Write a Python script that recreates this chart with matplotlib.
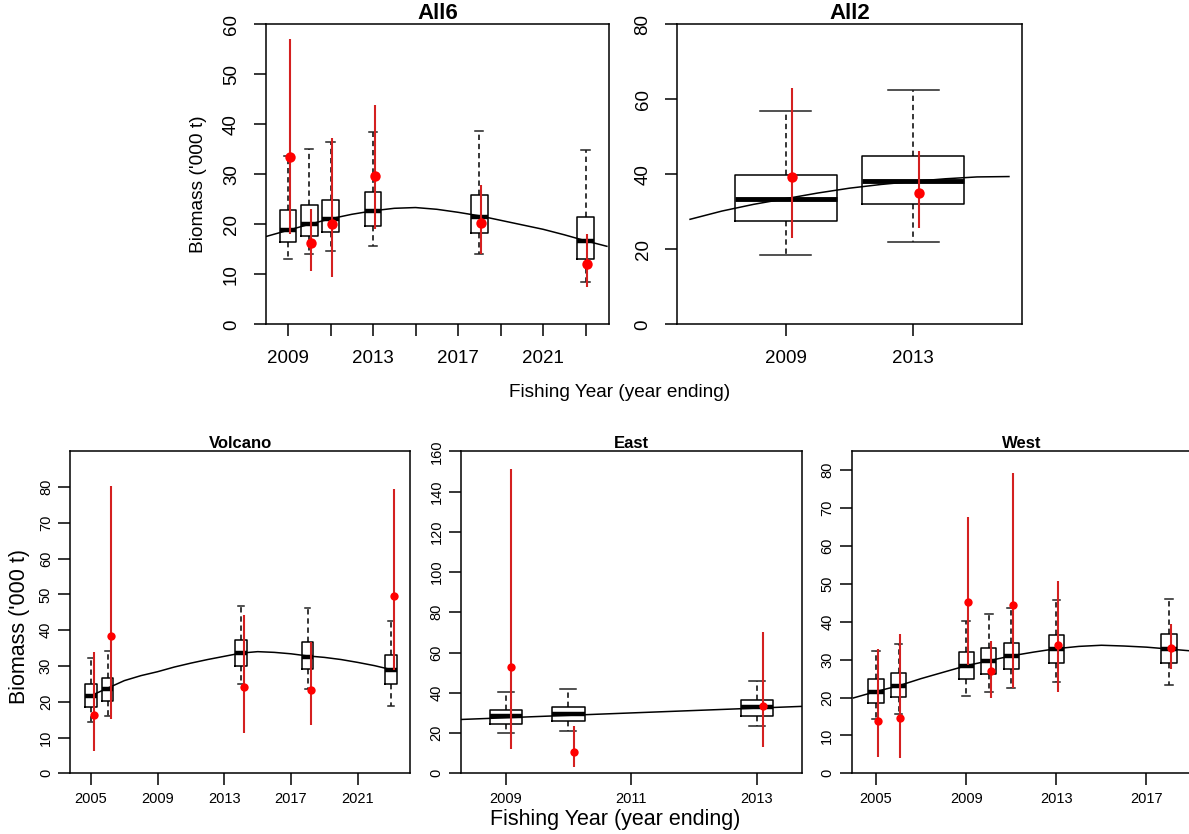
import matplotlib
matplotlib.use("Agg")
import matplotlib.pyplot as plt

plt.rcParams['font.family'] = ['Liberation Sans', 'DejaVu Sans']

# ---- All6 ----
all6_years = [2009, 2010, 2011, 2013, 2018, 2023]
all6_lo = [13.1, 14.0, 14.7, 15.7, 14.0, 8.5]
all6_q1 = [16.5, 17.6, 18.4, 19.7, 18.3, 13.1]
all6_med = [18.9, 20.1, 21.1, 22.6, 21.5, 16.7]
all6_q3 = [22.8, 23.9, 24.9, 26.5, 25.9, 21.5]
all6_hi = [33.7, 35.0, 36.4, 38.5, 38.7, 34.9]
all6_obs = [33.5, 16.2, 20.1, 29.7, 20.3, 12.0]
all6_obs_lo = [18.0, 10.7, 9.5, 19.0, 14.0, 7.5]
all6_obs_hi = [57.1, 23.1, 37.3, 43.8, 27.8, 18.1]
all6_fit_years = list(range(2008, 2025))
all6_fit = [17.6, 18.8, 20.0, 21.1, 22.0, 22.7, 23.2, 23.35, 23.0, 22.4, 21.7,
            20.8, 19.9, 19.0, 17.9, 16.7, 15.6]

# ---- All2 ----
all2_years = [2009, 2013]
all2_lo = [18.4, 22.0]
all2_q1 = [27.6, 32.1]
all2_med = [33.4, 38.2]
all2_q3 = [39.8, 45.0]
all2_hi = [56.8, 62.4]
all2_obs = [39.4, 34.9]
all2_obs_lo = [23.0, 25.6]
all2_obs_hi = [63.1, 46.2]
all2_fit_years = list(range(2006, 2017))
all2_fit = [28.0, 30.2, 32.0, 33.5, 35.0, 36.3, 37.3, 38.1, 38.8, 39.3, 39.4]

# ---- Volcano ----
volc_years = [2005, 2006, 2014, 2018, 2023]
volc_lo = [14.2, 15.9, 24.9, 23.5, 18.8]
volc_q1 = [18.6, 20.1, 29.9, 29.1, 24.9]
volc_med = [21.7, 23.6, 33.7, 32.6, 28.9]
volc_q3 = [24.9, 26.6, 37.3, 36.7, 33.0]
volc_hi = [32.1, 34.3, 46.9, 46.1, 42.6]
volc_obs = [16.2, 38.5, 24.0, 23.2, 49.5]
volc_obs_lo = [6.2, 15.3, 11.4, 13.5, 29.0]
volc_obs_hi = [33.9, 80.2, 44.3, 36.6, 79.4]
volc_fit_years = list(range(2005, 2024))
volc_fit = [21.7, 23.8, 25.9, 27.3, 28.4, 29.7, 30.8, 31.8, 32.7, 33.6, 34.0,
            33.8, 33.4, 32.8, 32.4, 31.8, 31.0, 30.1, 29.0]

# ---- East ----
east_years = [2009, 2010, 2013]
east_lo = [20.0, 21.2, 23.7]
east_q1 = [24.7, 26.0, 28.7]
east_med = [28.5, 29.6, 33.1]
east_q3 = [31.6, 33.1, 36.3]
east_hi = [40.2, 41.9, 45.7]
east_obs = [53.0, 10.4, 33.3]
east_obs_lo = [11.9, 3.3, 12.9]
east_obs_hi = [151.0, 23.7, 70.1]
east_fit_years = list(range(2008, 2015))
east_fit = [26.4, 27.6, 28.8, 30.0, 31.2, 32.4, 33.6]

# ---- West ----
west_years = [2005, 2006, 2009, 2010, 2011, 2013, 2018]
west_lo = [14.3, 15.7, 20.3, 21.5, 22.4, 24.1, 23.4]
west_q1 = [18.5, 20.1, 25.0, 26.2, 27.5, 29.2, 29.0]
west_med = [21.5, 23.1, 28.4, 29.7, 30.9, 32.8, 32.8]
west_q3 = [24.9, 26.4, 31.9, 33.2, 34.5, 36.4, 36.8]
west_hi = [32.2, 34.2, 40.3, 42.1, 43.6, 45.8, 46.0]
west_obs = [13.9, 14.5, 45.1, 27.0, 44.4, 33.9, 33.2]
west_obs_lo = [4.2, 4.1, 28.5, 20.0, 22.4, 21.4, 27.5]
west_obs_hi = [32.7, 36.7, 67.6, 35.0, 79.4, 50.8, 39.4]
west_fit_years = list(range(2004, 2020))
west_fit = [19.9, 21.6, 23.1, 25.0, 26.7, 28.4, 29.7, 31.0, 32.0, 32.9, 33.5,
            33.8, 33.6, 33.3, 32.8, 32.3]

W, H = 1189, 834
fig = plt.figure(figsize=(W / 100, H / 100), dpi=100)


def add_ax(x0, x1, y0, y1):
    return fig.add_axes([x0 / W, 1 - y1 / H, (x1 - x0) / W, (y1 - y0) / H])


def panel(ax, years, lo, q1, med, q3, hi, obs, obs_lo, obs_hi, fit_years, fit,
          width, offset, medlw, ptsize, redlw):
    stats = []
    for i in range(len(years)):
        stats.append(dict(whislo=lo[i], q1=q1[i], med=med[i], q3=q3[i], whishi=hi[i]))
    ax.bxp(stats, positions=years, widths=width, showfliers=False, manage_ticks=False,
           boxprops=dict(color='black', lw=1.1),
           medianprops=dict(color='black', lw=medlw, solid_capstyle='butt'),
           whiskerprops=dict(color='black', lw=1.1, linestyle=(0, (3.5, 2.5))),
           capprops=dict(color='#222222', lw=1.1))
    ax.plot(fit_years, fit, color='black', lw=1.1, zorder=3)
    xs = [y + offset for y in years]
    ax.vlines(xs, obs_lo, obs_hi, color='#d42020', lw=redlw, zorder=4)
    ax.plot(xs, obs, 'o', color='#ff0000', ms=ptsize, mec='none', zorder=5)
    for s in ax.spines.values():
        s.set_linewidth(1.1)


def style(ax, xlim, ylim, xticks, xlabels, yticks, fs, pad_x, pad_y):
    ax.set_xlim(*xlim)
    ax.set_ylim(*ylim)
    ax.set_xticks(xticks)
    ax.set_xticklabels(xlabels)
    ax.set_yticks(yticks)
    ax.set_yticklabels([str(v) for v in yticks], rotation=90, va='center')
    ax.tick_params(axis='both', length=8.5, width=1.1, labelsize=fs, colors='black')
    ax.tick_params(axis='x', pad=pad_x)
    ax.tick_params(axis='y', pad=pad_y)


# top panels
ax1 = add_ax(265.7, 609, 24.3, 324.3)
panel(ax1, all6_years, all6_lo, all6_q1, all6_med, all6_q3, all6_hi,
      all6_obs, all6_obs_lo, all6_obs_hi, all6_fit_years, all6_fit,
      0.78, 0.08, 3.2, 7.5, 1.5)
all6_ticks = list(range(2009, 2024, 2))
all6_labels = ['2009', '', '2013', '', '2017', '', '2021', '']
style(ax1, (2007.95, 2024.1), (0, 60), all6_ticks, all6_labels,
      [0, 10, 20, 30, 40, 50, 60], 13.5, 10, 10)
ax1.set_title('All6', fontsize=16, fontweight='bold', pad=1)

ax2 = add_ax(677.3, 1021.7, 24.3, 324.3)
panel(ax2, all2_years, all2_lo, all2_q1, all2_med, all2_q3, all2_hi,
      all2_obs, all2_obs_lo, all2_obs_hi, all2_fit_years, all2_fit,
      3.2, 0.19, 3.5, 7.5, 1.5)
style(ax2, (2005.6, 2016.4), (0, 80), [2009, 2013], ['2009', '2013'],
      [0, 20, 40, 60, 80], 13.5, 10, 10)
ax2.set_title('All2', fontsize=16, fontweight='bold', pad=1)

fig.text(620 / W, 1 - 393 / H, 'Fishing Year (year ending)', fontsize=13.7,
         ha='center', va='center')
fig.text(199 / W, 1 - 184 / H, "Biomass ('000 t)", fontsize=13.8,
         rotation=90, ha='center', va='center')

# bottom panels
ax3 = add_ax(70.3, 410, 451.3, 773.3)
panel(ax3, volc_years, volc_lo, volc_q1, volc_med, volc_q3, volc_hi,
      volc_obs, volc_obs_lo, volc_obs_hi, volc_fit_years, volc_fit,
      0.68, 0.2, 3.2, 6, 1.5)
style(ax3, (2003.76, 2024.14), (0, 90), [2005, 2009, 2013, 2017, 2021],
      ['2005', '2009', '2013', '2017', '2021'],
      [0, 10, 20, 30, 40, 50, 60, 70, 80], 10.5, 5, 4)
ax3.set_title('Volcano', fontsize=12, fontweight='bold', pad=1)

ax4 = add_ax(461, 802.3, 451.3, 773.3)
panel(ax4, east_years, east_lo, east_q1, east_med, east_q3, east_hi,
      east_obs, east_obs_lo, east_obs_hi, east_fit_years, east_fit,
      0.51, 0.09, 3.2, 6, 1.5)
style(ax4, (2008.29, 2013.72), (0, 160), [2009, 2011, 2013],
      ['2009', '2011', '2013'],
      [0, 20, 40, 60, 80, 100, 120, 140, 160], 10.5, 5, 4)
ax4.set_title('East', fontsize=12, fontweight='bold', pad=1)

ax5 = add_ax(851.7, 1192.7, 451.3, 773.3)
panel(ax5, west_years, west_lo, west_q1, west_med, west_q3, west_hi,
      west_obs, west_obs_lo, west_obs_hi, west_fit_years, west_fit,
      0.68, 0.08, 3.2, 6, 1.5)
style(ax5, (2003.92, 2019.05), (0, 85), [2005, 2009, 2013, 2017],
      ['2005', '2009', '2013', '2017'],
      [0, 10, 20, 30, 40, 50, 60, 70, 80], 10.5, 5, 4)
ax5.set_title('West', fontsize=12, fontweight='bold', pad=1)

fig.text(615 / W, 1 - 819 / H, 'Fishing Year (year ending)', fontsize=15.5,
         ha='center', va='center')
fig.text(20 / W, 1 - 626 / H, "Biomass ('000 t)", fontsize=15.5,
         rotation=90, ha='center', va='center')

fig.savefig('out.png', dpi=100)
